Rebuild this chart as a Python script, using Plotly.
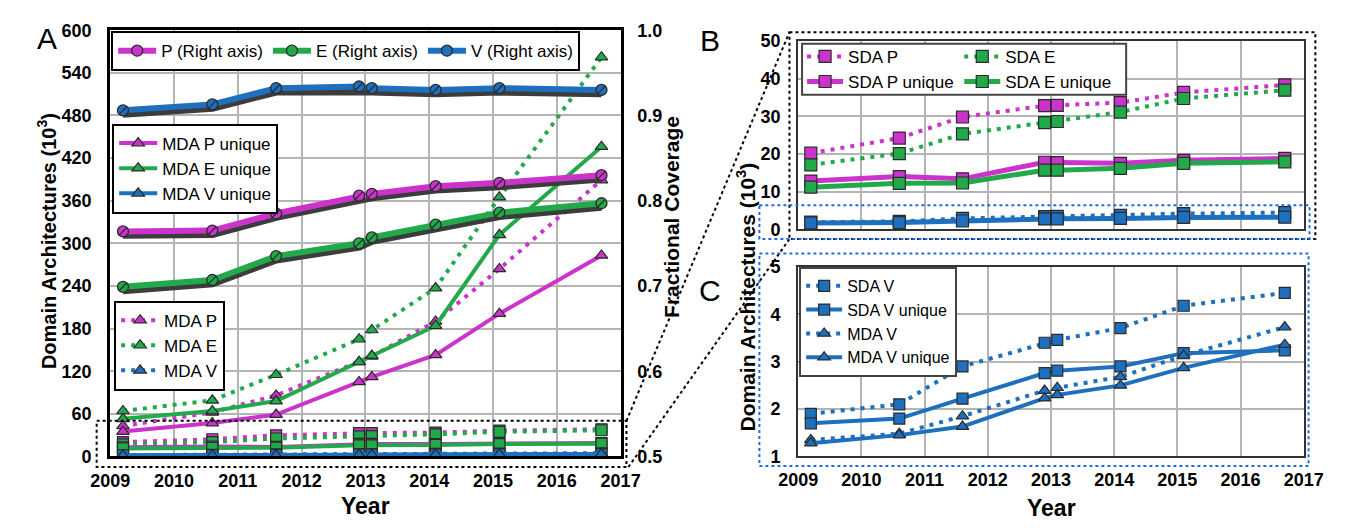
import plotly.graph_objects as go

W, H = 1347, 529

# ---- data -------------------------------------------------------------
years = [2009.2, 2010.6, 2011.6, 2012.9, 2013.1, 2014.1, 2015.1, 2016.7]
year_ticks = [2009, 2010, 2011, 2012, 2013, 2014, 2015, 2016, 2017]

# fractional coverage (right axis of panel A)
cov_p = [0.764, 0.765, 0.785, 0.806, 0.808, 0.817, 0.821, 0.830]
cov_e = [0.699, 0.707, 0.735, 0.750, 0.757, 0.772, 0.786, 0.797]
cov_v = [0.906, 0.913, 0.932, 0.934, 0.932, 0.930, 0.932, 0.930]

# multi-domain architectures (thousands)
mda_p = [43, 62, 86, 133, 141, 190, 264, 389]
mda_e = [64, 79, 115, 165, 178, 237, 365, 562]
mda_v = [1.35, 1.48, 1.85, 2.39, 2.45, 2.68, 3.13, 3.73]
mda_p_unique = [35, 47, 59, 105, 112, 143, 201, 283]
mda_e_unique = [53, 64, 78, 133, 142, 184, 312, 436]
mda_v_unique = [1.28, 1.45, 1.63, 2.23, 2.30, 2.50, 2.87, 3.36]

# single-domain architectures (thousands)
sda_p = [20.2, 24.2, 29.8, 32.8, 32.9, 33.6, 36.3, 38.3]
sda_e = [17.1, 20.1, 25.3, 28.3, 28.6, 31.1, 34.7, 36.9]
sda_v = [1.90, 2.10, 2.90, 3.40, 3.46, 3.71, 4.18, 4.45]
sda_p_unique = [12.8, 14.0, 13.4, 17.8, 17.7, 17.5, 18.3, 18.8]
sda_e_unique = [11.2, 12.2, 12.3, 15.7, 15.7, 16.2, 17.5, 17.9]
sda_v_unique = [1.70, 1.80, 2.22, 2.76, 2.81, 2.90, 3.18, 3.24]

# ---- style ------------------------------------------------------------
MAG = "#cc33cc"
GRN = "#22aa4a"
BLU = "#1f6fbf"
EDGE = "#2b2b2b"
FONT = "Liberation Sans, Arial, sans-serif"
DOT = "4px,6px"
CLEAR = "rgba(0,0,0,0)"


def px(x):
    return x / W


def py(y):
    return 1 - y / H


fig = go.Figure()


def series(x_ax, y_ax, y, color, dotted, symbol, name=None, legend=None,
           rank=1000, width=4, size=11):
    fig.add_trace(go.Scatter(
        x=years, y=y, xaxis=x_ax, yaxis=y_ax, mode="lines+markers",
        name=name or "", showlegend=legend is not None,
        legend=legend or "legend", legendrank=rank,
        line=dict(color=color, width=width, dash=DOT if dotted else "solid"),
        marker=dict(symbol=symbol, size=size, color=color,
                    line=dict(color=EDGE, width=1.2)),
        hoverinfo="skip"))


# ---- panel A ------------------------------------------------------------
# single-domain series near the floor of panel A
for vals, col, dotted in [(sda_p, MAG, True), (sda_e, GRN, True),
                          (sda_p_unique, MAG, False), (sda_e_unique, GRN, False),
                          (sda_v, BLU, True), (sda_v_unique, BLU, False)]:
    series("x", "y", vals, col, dotted, "square")

series("x", "y", mda_v, BLU, True, "triangle-up", "MDA V", "legend3", 3)
series("x", "y", mda_v_unique, BLU, False, "triangle-up", "MDA V unique",
       "legend2", 3)
series("x", "y", mda_p, MAG, True, "triangle-up", "MDA P", "legend3", 1)
series("x", "y", mda_e, GRN, True, "triangle-up", "MDA E", "legend3", 2)
series("x", "y", mda_p_unique, MAG, False, "triangle-up", "MDA P unique",
       "legend2", 1)
series("x", "y", mda_e_unique, GRN, False, "triangle-up", "MDA E unique",
       "legend2", 2)

# fractional coverage on the right axis: dark drop shadow + coloured line
for vals, col, name in [(cov_p, MAG, "P (Right axis)"),
                        (cov_e, GRN, "E (Right axis)"),
                        (cov_v, BLU, "V (Right axis)")]:
    fig.add_trace(go.Scatter(
        x=years, y=[v - 0.004 for v in vals], xaxis="x", yaxis="y2",
        mode="lines", line=dict(color="#3c3c3c", width=8),
        showlegend=False, hoverinfo="skip"))
    fig.add_trace(go.Scatter(
        x=years, y=vals, xaxis="x", yaxis="y2", mode="lines+markers",
        name=name, legend="legend",
        line=dict(color=col, width=6),
        marker=dict(symbol="circle", size=11, color=col,
                    line=dict(color=EDGE, width=1.3)),
        hoverinfo="skip"))
    fig.add_trace(go.Scatter(
        x=years, y=vals, xaxis="x", yaxis="y2", mode="markers",
        marker=dict(symbol="line-ne", size=8,
                    line=dict(color=EDGE, width=1.3)),
        showlegend=False, hoverinfo="skip"))

# ---- panel B ------------------------------------------------------------
series("x2", "y3", sda_v, BLU, True, "square", size=12)
series("x2", "y3", sda_v_unique, BLU, False, "square", size=12, width=5)
series("x2", "y3", sda_p, MAG, True, "square", "SDA P", "legend4", 1, size=12)
series("x2", "y3", sda_e, GRN, True, "square", "SDA E", "legend5", 1, size=12)
series("x2", "y3", sda_p_unique, MAG, False, "square", "SDA P unique",
       "legend4", 2, size=12, width=5)
series("x2", "y3", sda_e_unique, GRN, False, "square", "SDA E unique",
       "legend5", 2, size=12, width=5)

# ---- panel C ------------------------------------------------------------
series("x3", "y4", sda_v, BLU, True, "square", "SDA V", "legend6", 1, size=11)
series("x3", "y4", sda_v_unique, BLU, False, "square", "SDA V unique",
       "legend6", 2, size=11)
series("x3", "y4", mda_v, BLU, True, "triangle-up", "MDA V", "legend6", 3,
       size=11)
series("x3", "y4", mda_v_unique, BLU, False, "triangle-up", "MDA V unique",
       "legend6", 4, size=11)

# ---- axes ---------------------------------------------------------------
tickfont = dict(family=FONT, size=18, color="black", weight="bold")
grid = dict(showgrid=True, gridcolor="#b4b4b4", gridwidth=1.5, zeroline=False,
            tickfont=tickfont)
xticks = dict(ticks="outside", ticklen=6, tickcolor=CLEAR, **grid)
yticks = dict(ticks="outside", ticklen=12, tickcolor=CLEAR, **grid)

fig.update_layout(
    xaxis=dict(domain=[px(93), px(619)], range=[2009, 2017], tickvals=year_ticks,
               anchor="y", showline=True, mirror=True, linecolor="black",
               linewidth=3, **xticks),
    yaxis=dict(domain=[py(464), py(21)], range=[0, 600], dtick=60, anchor="x",
               showline=True, mirror=True, linecolor="black", linewidth=3,
               **yticks),
    yaxis2=dict(range=[0.5, 1.0], dtick=0.1, tickformat=".1f", overlaying="y",
                side="right", anchor="x", showgrid=False, zeroline=False,
                showline=False, ticks="outside", ticklen=12, tickcolor=CLEAR,
                tickfont=tickfont),
    xaxis2=dict(domain=[px(802), px(1323)], range=[2009, 2017],
                tickvals=year_ticks, anchor="y3", showticklabels=False,
                showline=True, mirror=True, linecolor="#333", linewidth=2,
                **xticks),
    yaxis3=dict(domain=[py(228), py(32)], range=[0, 50], dtick=10, anchor="x2",
                showline=True, mirror=True, linecolor="#333", linewidth=2,
                **yticks),
    xaxis3=dict(domain=[px(802), px(1323)], range=[2009, 2017],
                tickvals=year_ticks, anchor="y4", showline=True, mirror=True,
                linecolor="#333", linewidth=2, **xticks),
    yaxis4=dict(domain=[py(464), py(267)], range=[1, 5], dtick=1, anchor="x3",
                showline=True, mirror=True, linecolor="#333", linewidth=2,
                **yticks),
)

# ---- legends ------------------------------------------------------------
lfont = dict(family=FONT, size=17, color="black")
box = dict(bgcolor="white", bordercolor="black", borderwidth=2, font=lfont,
           xanchor="left", yanchor="top", itemwidth=38, itemclick=False,
           traceorder="normal")
clear = dict(bgcolor=CLEAR, borderwidth=0,
             font=dict(family=FONT, size=17, color="black"),
             xanchor="left", yanchor="top", itemwidth=36, itemclick=False,
             traceorder="normal")

fig.update_layout(
    legend=dict(x=px(94), y=py(22), orientation="h", **box),
    legend2=dict(x=px(95), y=py(118), **box),
    legend3=dict(x=px(97), y=py(302), **box),
    legend4=dict(x=px(806), y=py(30), **clear),
    legend5=dict(x=px(968), y=py(30), **clear),
    legend6=dict(x=px(803), y=py(267), bgcolor="white", bordercolor="#444",
                 borderwidth=2, font=dict(family=FONT, size=16, color="black"),
                 xanchor="left", yanchor="top", itemwidth=36, itemclick=False,
                 traceorder="normal"),
)

# ---- zoom boxes and connectors --------------------------------------------
def rect(x0, y0, x1, y1, color="black", dash="dot", width=2, fill=None,
         layer="above"):
    fig.add_shape(type="rect", xref="paper", yref="paper",
                  x0=px(x0), x1=px(x1), y0=py(y0), y1=py(y1),
                  line=dict(color=color, dash=dash, width=width),
                  fillcolor=fill, layer=layer)


def seg(x0, y0, x1, y1):
    fig.add_shape(type="line", xref="paper", yref="paper",
                  x0=px(x0), x1=px(x1), y0=py(y0), y1=py(y1),
                  line=dict(color="black", dash="dot", width=2))


rect(79, 427, 625, 475)
seg(625, 427, 793, 23)
seg(627, 475, 793, 238)
rect(793, 23, 1335, 238)
rect(762, 203, 1329, 238, color="#2268e6")
rect(762, 253, 1328, 474, color="#2268e6")
rect(806, 35, 1140, 88, color="#444", dash="solid", fill="white")

# ---- titles ---------------------------------------------------------------
def text(x, y, s, size, bold=True, angle=0):
    fig.add_annotation(xref="paper", yref="paper", x=px(x), y=py(y), text=s,
                       showarrow=False, textangle=angle,
                       xanchor="center", yanchor="middle",
                       font=dict(family=FONT, size=size, color="black",
                                 weight="bold" if bold else "normal"))


text(28, 240, "Domain Architectures (10<sup>3</sup>)", 20, angle=-90)
text(672, 215, "Fractional Coverage", 21, angle=-90)
text(356, 516, "Year", 23)
text(748, 298, "Domain Architectures (10<sup>3</sup>)", 21, angle=-90)
text(1063, 518, "Year", 23)
text(28, 30, "A", 30, bold=False)
text(711, 32, "B", 30, bold=False)
text(711, 292, "C", 30, bold=False)

fig.update_layout(
    width=W, height=H, margin=dict(l=0, r=0, t=0, b=0),
    paper_bgcolor="white", plot_bgcolor="white",
    font=dict(family=FONT, color="black"),
)

fig.write_html("out.html")
